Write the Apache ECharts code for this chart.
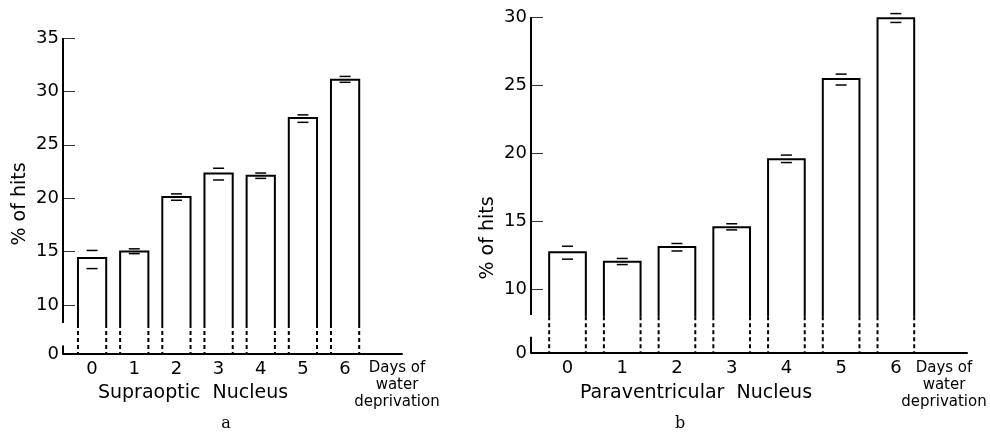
<!DOCTYPE html>
<html>
<head>
<meta charset="utf-8">
<script src="https://cdn.jsdelivr.net/npm/echarts@6/dist/echarts.min.js"></script>
<style>
    html, body { margin: 0; background: #fff; }
    #main { width: 990px; height: 435px; }
</style>
</head>
<body>
<div id="main"></div>
<script type="text/javascript">

    // days of water deprivation
    var days = [0, 1, 2, 3, 4, 5, 6];

    // a: supraoptic nucleus, % of hits (mean, upper / lower error marks)
    var supraMean = [14.4, 15.0, 20.1, 22.3, 22.1, 27.5, 31.1];
    var supraHigh = [15.1, 15.25, 20.4, 22.8, 22.35, 27.8, 31.4];
    var supraLow = [13.4, 14.8, 19.8, 21.7, 21.85, 27.1, 30.85];

    // b: paraventricular nucleus
    var paraMean = [12.7, 12.0, 13.1, 14.55, 19.55, 25.45, 29.9];
    var paraHigh = [13.15, 12.25, 13.35, 14.8, 19.85, 25.8, 30.25];
    var paraLow = [12.2, 11.8, 12.8, 14.35, 19.3, 25.0, 29.6];

    var supraTicks = [10, 15, 20, 25, 30, 35];
    var paraTicks = [10, 15, 20, 25, 30];

    // where the value axis is broken (bars go dashed below this)
    var supraBreak = 8.2;
    var paraBreak = 8.0;
    var supraAxisGap = [8.3, 6.2];
    var paraAxisGap = [8.1, 6.5];

    var FONT = 'DejaVu Sans';
    var BAR_HALF = 0.335;
    var ERR_HALF = 5.5;

    function rows(mean, high, low) {
        return days.map(function (d, i) { return [d, mean[i], high[i], low[i]]; });
    }

    function barRenderer(breakVal) {
        return function (params, api) {
            var x = api.value(0);
            var v = api.value(1);
            var yTop = api.coord([x, v])[1];
            var cx = api.coord([x, v])[0];
            var left = api.coord([x - BAR_HALF, v])[0];
            var right = api.coord([x + BAR_HALF, v])[0];
            var yBrk = api.coord([x, breakVal])[1];
            var yBase = params.coordSys.y + params.coordSys.height;
            var yHi = api.coord([x, api.value(2)])[1];
            var yLo = api.coord([x, api.value(3)])[1];
            var solid = { stroke: '#000', lineWidth: 2, fill: 'none' };
            var dashed = { stroke: '#000', lineWidth: 2, lineDash: [4, 3] };
            var err = { stroke: '#000', lineWidth: 1.5 };
            return {
                type: 'group',
                children: [
                    { type: 'polyline', shape: { points: [[left, yBrk], [left, yTop], [right, yTop], [right, yBrk]] }, style: solid },
                    { type: 'line', shape: { x1: left, y1: yBrk, x2: left, y2: yBase }, style: dashed },
                    { type: 'line', shape: { x1: right, y1: yBrk, x2: right, y2: yBase }, style: dashed },
                    { type: 'line', shape: { x1: cx - ERR_HALF, y1: yHi, x2: cx + ERR_HALF, y2: yHi }, style: err },
                    { type: 'line', shape: { x1: cx - ERR_HALF, y1: yLo, x2: cx + ERR_HALF, y2: yLo }, style: err }
                ]
            };
        };
    }

    // broken y axis line: solid from top to gap, short piece at bottom
    function axisRenderer(params, api) {
        var cs = params.coordSys;
        var x0 = cs.x;
        var yTop = cs.y;
        var yBase = cs.y + cs.height;
        var yGapTop = api.coord([0, api.value(1)])[1];
        var yGapBot = api.coord([0, api.value(2)])[1];
        var st = { stroke: '#000', lineWidth: 2 };
        return {
            type: 'group',
            children: [
                { type: 'line', shape: { x1: x0, y1: yTop, x2: x0, y2: yGapTop }, style: st },
                { type: 'line', shape: { x1: x0, y1: yGapBot, x2: x0, y2: yBase }, style: st }
            ]
        };
    }

    function xAxisOpt(gridIndex, min, max) {
        return {
            type: 'value', gridIndex: gridIndex, min: min, max: max,
            splitLine: { show: false },
            axisLine: { show: true, onZero: false, lineStyle: { color: '#000', width: 2 } },
            axisTick: { show: false },
            axisLabel: {
                customValues: days, margin: 6,
                color: '#000', fontFamily: FONT, fontSize: 18,
                formatter: function (v) { return String(Math.round(v)); }
            }
        };
    }

    function yAxisOpt(gridIndex, min, max, ticks) {
        return {
            type: 'value', gridIndex: gridIndex, min: min, max: max,
            splitLine: { show: false },
            axisLine: { show: false, onZero: false },
            axisTick: { show: true, inside: true, length: 12, customValues: ticks, lineStyle: { color: '#333', width: 1 } },
            axisLabel: {
                customValues: [min].concat(ticks), margin: 4,
                color: '#000', fontFamily: FONT, fontSize: 18,
                formatter: function (v) { return v < 10 ? '0' : String(Math.round(v)); }
            }
        };
    }

    function text(x, y, str, font) {
        return {
            type: 'text', x: x, y: y,
            style: {
                text: str, fill: '#000', font: font,
                textAlign: 'center', textVerticalAlign: 'middle', lineHeight: 17
            }
        };
    }

    var titleFont = '19px "' + FONT + '"';
    var noteFont = '15px "' + FONT + '"';

    var myChart = echarts.init(document.getElementById('main'));

    var yTitleA = text(20, 204, '% of hits', titleFont);
    var yTitleB = text(488, 238, '% of hits', titleFont);
    yTitleA.rotation = Math.PI / 2;
    yTitleB.rotation = Math.PI / 2;

    myChart.setOption({
        backgroundColor: '#fff',
        animation: false,
        grid: [
            { left: 63, top: 38, right: 588, bottom: 81 },
            { left: 531, top: 17, right: 23, bottom: 82 }
        ],
        xAxis: [
            xAxisOpt(0, -0.69, 7.35),
            xAxisOpt(1, -0.667, 7.30)
        ],
        yAxis: [
            yAxisOpt(0, 5.4, 35, supraTicks),
            yAxisOpt(1, 5.3, 30, paraTicks)
        ],
        series: [
            {
                type: 'custom', name: 'Supraoptic Nucleus', xAxisIndex: 0, yAxisIndex: 0,
                data: rows(supraMean, supraHigh, supraLow),
                renderItem: barRenderer(supraBreak)
            },
            {
                type: 'custom', name: 'Paraventricular Nucleus', xAxisIndex: 1, yAxisIndex: 1,
                data: rows(paraMean, paraHigh, paraLow),
                renderItem: barRenderer(paraBreak)
            },
            {
                type: 'custom', xAxisIndex: 0, yAxisIndex: 0, silent: true,
                data: [[0, supraAxisGap[0], supraAxisGap[1]]],
                renderItem: axisRenderer
            },
            {
                type: 'custom', xAxisIndex: 1, yAxisIndex: 1, silent: true,
                data: [[0, paraAxisGap[0], paraAxisGap[1]]],
                renderItem: axisRenderer
            }
        ],
        graphic: [
            yTitleA,
            yTitleB,
            text(193, 393, 'Supraoptic  Nucleus', titleFont),
            text(696, 393, 'Paraventricular  Nucleus', titleFont),
            text(397, 385, 'Days of\nwater\ndeprivation', noteFont),
            text(944, 385, 'Days of\nwater\ndeprivation', noteFont),
            text(226, 424, 'a', '16px "DejaVu Serif"'),
            text(680, 424, 'b', '16px "DejaVu Serif"')
        ]
    });
</script>
</body>
</html>
